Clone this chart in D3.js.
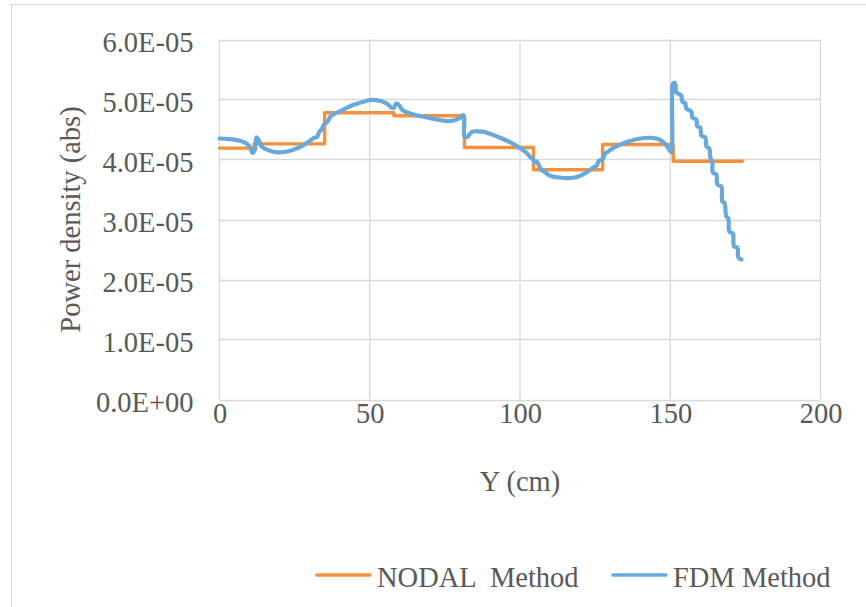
<!DOCTYPE html>
<html>
<head>
<meta charset="utf-8">
<script src="https://cdn.jsdelivr.net/npm/d3@7"></script>
<style>
    body { margin: 0; background: #fff; }
    text { font-family: "Liberation Serif", "Times New Roman", serif; fill: #595959; }
</style>
</head>
<body>
<script>
// NODAL method: step edges (cm) and the level of each step
const nodalEdges = [0, 11.5, 35, 58, 81.5, 104.5, 127.5, 151, 174];
const nodalValues = [4.19e-5, 4.26e-5, 4.78e-5, 4.73e-5, 4.20e-5, 3.83e-5, 4.25e-5, 3.97e-5];

// FDM method
const fdmY = [0, 3, 6, 8.5, 10, 11, 11.7, 12.3, 13, 14, 16, 19, 22, 25, 28, 30, 31.5, 32.5, 33.2, 34, 34.7, 36, 37,
    39, 41.5, 44, 47, 50, 52, 54, 56, 57.3, 58, 58.7, 59.5, 61, 64, 67, 70, 73, 76, 78.5, 80, 81, 81.4, 81.6, 82.5,
    84, 86, 88, 91, 94, 97, 100, 102, 103.5, 104.3, 104.8, 105.5, 106.3, 107, 108.5, 110, 113, 116, 119, 122, 124.5,
    125.5, 126.3, 127.5, 128.3, 129, 131, 133, 136, 140, 144, 146.5, 148.5, 150, 150.4, 150.8, 151.2, 151.7,
    152, 153.67, 154, 155, 155.33, 157, 157.33, 158.67, 159, 160, 160.33, 161.67, 162, 163, 163.33, 164, 164.17,
    165.33, 165.67, 167, 167.33, 168, 168.67, 169.33, 169.67, 170.83, 171.23, 172.33, 172.67, 173.67];
const fdmValues = [4.35, 4.34, 4.32, 4.28, 4.22, 4.11, 4.15, 4.37, 4.33, 4.22, 4.16, 4.12, 4.13, 4.17, 4.24, 4.31, 4.36, 4.38, 4.46, 4.50, 4.58, 4.63, 4.72,
    4.78, 4.84, 4.90, 4.95, 4.99, 4.99, 4.97, 4.92, 4.86, 4.86, 4.93, 4.92, 4.82, 4.76, 4.72, 4.69, 4.66, 4.64, 4.66, 4.69, 4.74, 4.70, 4.38, 4.38,
    4.46, 4.47, 4.46, 4.41, 4.35, 4.28, 4.19, 4.12, 4.04, 4.01, 3.95, 3.97, 3.90, 3.84, 3.78, 3.73, 3.70, 3.69, 3.71, 3.78, 3.87,
    3.90, 3.98, 4.00, 4.10, 4.12, 4.19, 4.24, 4.30, 4.35, 4.36, 4.33, 4.25, 4.14, 4.12, 5.25, 5.28, 5.26,
    5.117, 5.067, 4.967, 4.933, 4.85, 4.80, 4.70, 4.667, 4.55, 4.533, 4.40, 4.367, 4.217, 4.183, 4.033, 3.967, 3.783,
    3.75, 3.583, 3.55, 3.30, 3.283, 3.05, 3.017, 2.80, 2.767, 2.55, 2.533, 2.367, 2.333].map(v => v * 1e-5);

const xTicks = [0, 50, 100, 150, 200];
const yTicks = [0, 1e-5, 2e-5, 3e-5, 4e-5, 5e-5, 6e-5];
const seriesNames = ['NODAL  Method', 'FDM Method'];

const width = 866;
const height = 607;
const plot = { left: 219.5, right: 820.5, top: 39.5, bottom: 399.5 };
const colors = { nodal: '#F4913F', fdm: '#68A8DB', grid: '#D9D9D9' };

const svg = d3.select('body').append('svg')
    .attr('width', width)
    .attr('height', height);

// chart area frame
svg.append('rect')
    .attr('x', 11.5).attr('y', 4.5)
    .attr('width', width + 10).attr('height', height + 10)
    .attr('fill', '#fff')
    .attr('stroke', colors.grid);

const x = d3.scaleLinear().domain([0, 200]).range([plot.left, plot.right]);
const y = d3.scaleLinear().domain([0, 6e-5]).range([plot.bottom, plot.top]);

// grid lines
const grid = svg.append('g').attr('class', 'grid');
grid.selectAll('.hgrid')
    .data(yTicks)
    .enter()
    .append('line')
    .attr('x1', plot.left).attr('x2', plot.right)
    .attr('y1', d => Math.round(y(d)) + 0.5).attr('y2', d => Math.round(y(d)) + 0.5)
    .attr('stroke', colors.grid)
    .attr('stroke-width', 1.3);
grid.selectAll('.vgrid')
    .data(xTicks)
    .enter()
    .append('line')
    .attr('x1', d => x(d)).attr('x2', d => x(d))
    .attr('y1', plot.top).attr('y2', plot.bottom)
    .attr('stroke', colors.grid)
    .attr('stroke-width', 1.3);

// axes (labels only, the lines are the grid)
const xAxis = d3.axisBottom(x).tickValues(xTicks).tickSize(0).tickPadding(0);
svg.append('g')
    .attr('transform', `translate(0,${plot.bottom})`)
    .call(xAxis)
    .call(g => g.select('.domain').remove())
    .selectAll('text')
    .attr('dy', null)
    .attr('y', 23)
    .style('font-size', '28.5px')
    .style('font-family', '"Liberation Serif", serif')
    .attr('fill', '#595959');

const yAxis = d3.axisLeft(y).tickValues(yTicks).tickSize(0).tickPadding(26)
    .tickFormat(d => d.toExponential(1).replace(/e([+-])(\d)$/, 'E$10$2').toUpperCase());
svg.append('g')
    .attr('transform', `translate(${plot.left},0)`)
    .call(yAxis)
    .call(g => g.select('.domain').remove())
    .selectAll('text')
    .attr('dy', '0.42em')
    .style('font-size', '28.5px')
    .style('font-family', '"Liberation Serif", serif')
    .attr('fill', '#595959');

// axis titles
svg.append('text')
    .attr('x', (plot.left + plot.right) / 2)
    .attr('y', 491)
    .attr('text-anchor', 'middle')
    .style('font-size', '28.5px')
    .text('Y (cm)');

svg.append('text')
    .attr('transform', `translate(80,${(plot.top + plot.bottom) / 2}) rotate(-90)`)
    .attr('text-anchor', 'middle')
    .style('font-size', '28.5px')
    .text('Power density (abs)');

// series
const nodalPoints = [];
nodalValues.forEach((v, i) => {
    nodalPoints.push([nodalEdges[i], v]);
    nodalPoints.push([nodalEdges[i + 1], v]);
});
const fdmPoints = fdmY.map((d, i) => [d, fdmValues[i]]);

const stepLine = d3.line()
    .x(d => x(d[0]))
    .y(d => y(d[1]));

const smoothLine = d3.line()
    .x(d => x(d[0]))
    .y(d => y(d[1]))
    .curve(d3.curveCatmullRom.alpha(0.5));

svg.append('path')
    .datum(nodalPoints)
    .attr('d', stepLine)
    .attr('fill', 'none')
    .attr('stroke', colors.nodal)
    .attr('stroke-width', 3.4)
    .attr('stroke-linejoin', 'round')
    .attr('stroke-linecap', 'round');

svg.append('path')
    .datum(fdmPoints)
    .attr('d', smoothLine)
    .attr('fill', 'none')
    .attr('stroke', colors.fdm)
    .attr('stroke-width', 4.2)
    .attr('stroke-linejoin', 'round')
    .attr('stroke-linecap', 'round');

// legend
const legendItems = [
    { name: seriesNames[0], color: colors.nodal, x: 317 },
    { name: seriesNames[1], color: colors.fdm, x: 613 }
];
const legend = svg.append('g').attr('class', 'legend');
legendItems.forEach(item => {
    legend.append('line')
        .attr('x1', item.x).attr('x2', item.x + 53)
        .attr('y1', 575).attr('y2', 575)
        .attr('stroke', item.color)
        .attr('stroke-width', 3.6)
        .attr('stroke-linecap', 'round');
    legend.append('text')
        .attr('x', item.x + 60)
        .attr('y', 587)
        .style('font-size', '28.5px')
        .style('white-space', 'pre')
        .attr('xml:space', 'preserve')
        .text(item.name);
});
</script>
</body>
</html>
